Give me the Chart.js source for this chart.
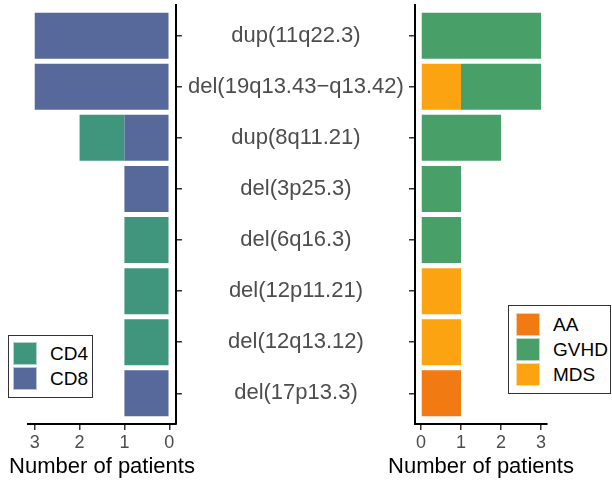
<!DOCTYPE html>
<html>
<head>
<meta charset="utf-8">
<script src="https://cdn.jsdelivr.net/npm/chart.js@4/dist/chart.umd.min.js"></script>
<style>
  html, body { margin: 0; padding: 0; background: #fff; }
  body { width: 612px; height: 484px; position: relative; overflow: hidden; font-family: "Liberation Sans", Arial, sans-serif; }
  .cv { position: absolute; top: 0; }
  .legend { position: absolute; border: 1px solid #333; background: #fff; box-sizing: border-box; }
  .key { position: absolute; width: 24px; height: 23px; box-sizing: border-box; border: 1px solid rgba(255,255,255,0.6); }
  .ltxt { position: absolute; font-size: 19px; color: #000; line-height: 23px; }
  .xtitle { position: absolute; top: 453px; height: 26px; line-height: 26px; font-size: 22px; color: #000; text-align: center; white-space: nowrap; }
</style>
</head>
<body>
<div class="cv" style="left:0;width:420px;height:484px;"><canvas id="left"></canvas></div>
<div class="cv" style="left:400px;width:212px;height:484px;"><canvas id="right"></canvas></div>

<div class="xtitle" style="left:2px;width:200px;">Number of patients</div>
<div class="xtitle" style="left:381px;width:200px;">Number of patients</div>

<div class="legend" style="left:8px;top:335px;width:85px;height:63px;"></div>
<div class="key" style="left:13px;top:342px;background:#3F967C;"></div>
<div class="ltxt" style="left:50px;top:342px;">CD4</div>
<div class="key" style="left:13px;top:367px;background:#56699A;"></div>
<div class="ltxt" style="left:50px;top:367px;">CD8</div>

<div class="legend" style="left:508px;top:305px;width:103px;height:89px;"></div>
<div class="key" style="left:516px;top:313px;background:#F27A13;"></div>
<div class="ltxt" style="left:553px;top:313px;">AA</div>
<div class="key" style="left:516px;top:338px;background:#48A068;"></div>
<div class="ltxt" style="left:553px;top:338px;">GVHD</div>
<div class="key" style="left:516px;top:363px;background:#FCA311;"></div>
<div class="ltxt" style="left:553px;top:363px;">MDS</div>

<script>
const categories = ["dup(11q22.3)", "del(19q13.43\u2212q13.42)", "dup(8q11.21)", "del(3p25.3)", "del(6q16.3)", "del(12p11.21)", "del(12q13.12)", "del(17p13.3)"];
const cd8  = [3, 3, 1, 1, 0, 0, 0, 1];
const cd4  = [0, 0, 1, 0, 1, 1, 1, 0];
const mds  = [0, 1, 0, 0, 0, 1, 1, 0];
const gvhd = [3, 2, 2, 1, 1, 0, 0, 0];
const aa   = [0, 0, 0, 0, 0, 0, 0, 1];
const xTicks = [0, 1, 2, 3];

const FONT = "'Liberation Sans', Arial, sans-serif";
Chart.defaults.font.family = FONT;
Chart.defaults.animation = false;

function pts(arr) { return arr.map((v, i) => ({ x: v, y: i + 1 })); }
function ds(label, arr, color) {
  return { label, data: pts(arr), backgroundColor: color, borderWidth: 0,
           barPercentage: 0.9, categoryPercentage: 1.0 };
}

function xScale(reverse) {
  return {
    type: 'linear', stacked: true, reverse, min: -0.15, max: 3.15,
    afterBuildTicks: s => { s.ticks = xTicks.map(v => ({ value: v })); },
    afterFit: s => { s.height = 60; s.paddingLeft = 0; s.paddingRight = 0; },
    grid: { display: true, drawOnChartArea: false, drawTicks: true, tickLength: 6, color: '#333', lineWidth: 1.5 },
    border: { display: true, color: '#000', width: 2 },
    ticks: { color: '#4d4d4d', font: { size: 18 }, padding: 2, maxRotation: 0 },
    title: { display: false }
  };
}

function yScale(position, showLabels, width) {
  return {
    type: 'linear', position, stacked: true, reverse: true, min: 0.4, max: 8.6,
    offset: false,
    afterBuildTicks: s => { s.ticks = categories.map((c, i) => ({ value: i + 1 })); },
    afterFit: s => { s.width = width; s.paddingTop = 0; s.paddingBottom = 0; },
    grid: { display: true, offset: false, drawOnChartArea: false, drawTicks: true, tickLength: 6, color: '#333', lineWidth: 1.5 },
    border: { display: true, color: '#000', width: 2 },
    ticks: {
      display: showLabels, color: '#4d4d4d', font: { size: 22 }, padding: 6, crossAlign: 'center',
      callback: v => categories[Math.round(v) - 1]
    }
  };
}

new Chart(document.getElementById('left'), {
  type: 'bar',
  data: { datasets: [ds('CD8', cd8, '#56699A'), ds('CD4', cd4, '#3F967C')] },
  options: {
    indexAxis: 'y', responsive: true, maintainAspectRatio: false,
    layout: { padding: { left: 28, right: 5, top: 5, bottom: 0 } },
    plugins: { legend: { display: false }, tooltip: { enabled: false } },
    scales: { x: xScale(true), y: yScale('right', true, 239) }
  }
});

new Chart(document.getElementById('right'), {
  type: 'bar',
  data: { datasets: [ds('MDS', mds, '#FCA311'), ds('GVHD', gvhd, '#48A068'), ds('AA', aa, '#F27A13')] },
  options: {
    indexAxis: 'y', responsive: true, maintainAspectRatio: false,
    layout: { padding: { left: 0, right: 65, top: 5, bottom: 0 } },
    plugins: { legend: { display: false }, tooltip: { enabled: false } },
    scales: { x: xScale(false), y: yScale('left', false, 15) }
  }
});
</script>
</body>
</html>
